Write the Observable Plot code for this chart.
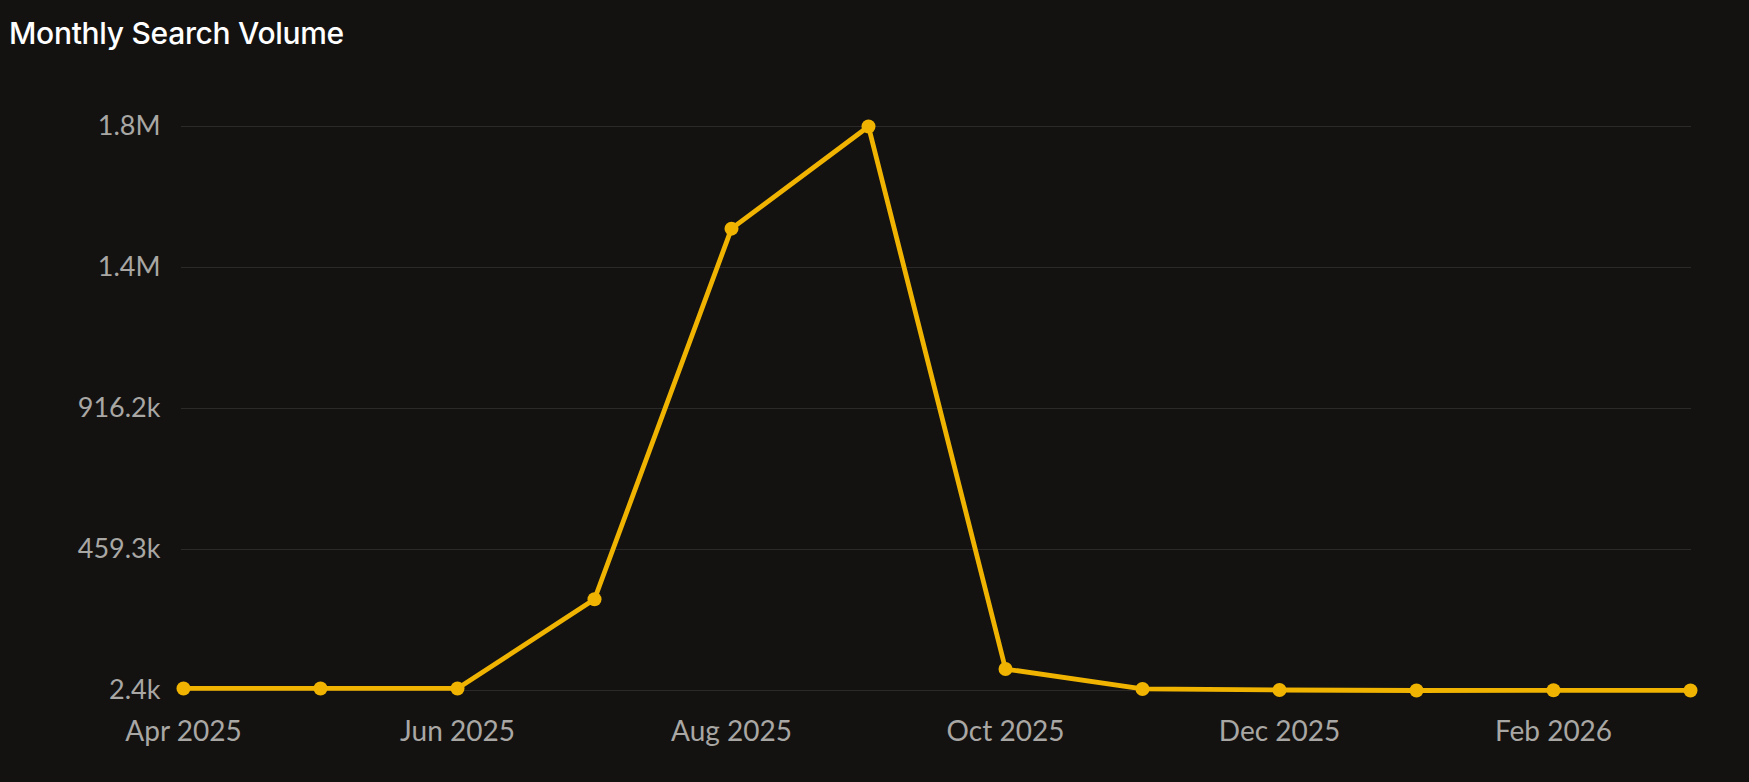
<!DOCTYPE html>
<html>
<head>
<meta charset="utf-8">
<script src="https://cdn.jsdelivr.net/npm/d3@7"></script>
<script src="https://cdn.jsdelivr.net/npm/@observablehq/plot@0.6"></script>
<style>
  html, body { margin: 0; padding: 0; background: #131211; }
  body { width: 1749px; height: 782px; overflow: hidden; font-family: Lato, "Noto Sans", sans-serif; }
  #title { height: 60px; box-sizing: border-box; padding: 15px 0 0 9px; color: #ffffff; font-family: Inter, Lato, sans-serif; font-size: 30px; font-weight: 500; line-height: 36px; letter-spacing: -0.3px; }
  #chart svg { display: block; }
</style>
</head>
<body>
<div id="title">Monthly Search Volume</div>
<div id="chart"></div>
<script>
const months = ["Apr 2025", "May 2025", "Jun 2025", "Jul 2025", "Aug 2025", "Sep 2025",
                "Oct 2025", "Nov 2025", "Dec 2025", "Jan 2026", "Feb 2026", "Mar 2026"];
const volumes = [9000, 9000, 9000, 298000, 1499000, 1830000, 72000, 7500, 4000, 2400, 3000, 2600];
const xTickLabels = ["Apr 2025", "Jun 2025", "Aug 2025", "Oct 2025", "Dec 2025", "Feb 2026"];
const yTicks = [2400, 459300, 916200, 1373100, 1830000];

const data = months.map((m, i) => ({ month: m, value: volumes[i] }));

const fmt = v => v >= 1e6 ? (v / 1e6).toFixed(1) + "M" : (v / 1e3).toFixed(1) + "k";

const chart = Plot.plot({
  width: 1749,
  height: 722,
  marginLeft: 181,
  marginRight: 58,
  marginTop: 66,
  marginBottom: 92,
  style: { background: "#131211", color: "#a9a7a4", fontFamily: "Lato, 'Noto Sans', sans-serif", fontSize: "27px" },
  x: { type: "point", domain: months, padding: 0, label: null },
  y: { domain: [2400, 1830000], label: null },
  marks: [
    Plot.gridY(yTicks, { stroke: "#2c2a28", strokeOpacity: 1, strokeWidth: 1.2 }),
    Plot.axisY(yTicks, { tickSize: 0, tickPadding: 21, tickFormat: fmt, fontSize: 27, fill: "#a9a7a4" }),
    Plot.axisX(xTickLabels, { tickSize: 0, tickPadding: 31, fontSize: 28, fill: "#a9a7a4" }),
    Plot.line(data, { x: "month", y: "value", stroke: "#f0b400", strokeWidth: 4.8, curve: "linear" }),
    Plot.dot(data, { x: "month", y: "value", r: 7, fill: "#f0b400", stroke: "none" })
  ]
});
document.getElementById("chart").append(chart);
</script>
</body>
</html>
